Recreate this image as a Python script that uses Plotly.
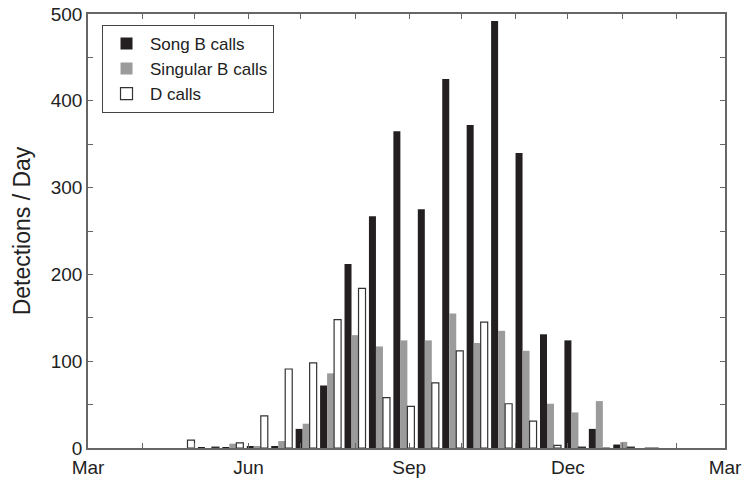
import plotly.graph_objects as go

# Biweekly bin centres
bin_dates = ["2001-04-25", "2001-05-09", "2001-05-23", "2001-06-06", "2001-06-20",
             "2001-07-04", "2001-07-18", "2001-08-01", "2001-08-15", "2001-08-29",
             "2001-09-12", "2001-09-26", "2001-10-10", "2001-10-24", "2001-11-07",
             "2001-11-21", "2001-12-05", "2001-12-19", "2002-01-02", "2002-01-16"]

song_b = [0, 1, 1, 2, 2, 22, 72, 212, 267, 365, 275, 425, 372, 492, 340, 131, 124, 22, 4, 0]
singular_b = [0, 0, 5, 2, 8, 28, 86, 130, 117, 124, 124, 155, 121, 135, 112, 51, 41, 54, 7, 1]
d_calls = [9, 1, 6, 37, 91, 98, 148, 184, 58, 48, 75, 112, 145, 51, 31, 3, 1, 0, 1, 0]

month_ticks = ["2001-03-01", "2001-04-01", "2001-05-01", "2001-06-01", "2001-07-01",
               "2001-08-01", "2001-09-01", "2001-10-01", "2001-11-01", "2001-12-01",
               "2002-01-01", "2002-02-01", "2002-03-01"]
month_labels = ["Mar", "", "", "Jun", "", "", "Sep", "", "", "Dec", "", "", "Mar"]

y_ticks = [0, 50, 100, 150, 200, 250, 300, 350, 400, 450, 500]
y_labels = ["0", "", "100", "", "200", "", "300", "", "400", "", "500"]

fig = go.Figure()
fig.add_trace(go.Bar(x=bin_dates, y=song_b, name="Song B calls",
                     marker=dict(color="#231f20", line=dict(width=0))))
fig.add_trace(go.Bar(x=bin_dates, y=singular_b, name="Singular B calls",
                     marker=dict(color="#9b9b9b", line=dict(width=0))))
fig.add_trace(go.Bar(x=bin_dates, y=d_calls, name="D calls",
                     marker=dict(color="white", line=dict(color="#333333", width=1.2))))

font = "Liberation Sans, Arial, Helvetica, sans-serif"
fig.update_layout(
    width=747, height=479,
    margin=dict(l=88, r=22, t=14, b=31, autoexpand=False),
    paper_bgcolor="white", plot_bgcolor="white",
    barmode="group", bargap=0.14, bargroupgap=0,
    font=dict(family=font, size=19, color="#222222"),
    showlegend=True,
    legend=dict(x=0.022, y=0.975, xanchor="left", yanchor="top",
                bordercolor="#444444", borderwidth=1, bgcolor="white",
                font=dict(size=17, color="#222222"), tracegroupgap=0,
                itemwidth=37),
    xaxis=dict(type="date", range=["2001-03-01", "2002-03-01"], automargin=False,
               tickmode="array", tickvals=month_ticks, ticktext=month_labels,
               ticklabeloverflow="allow", ticklabelstandoff=1,
               ticks="inside", ticklen=5, tickcolor="#666666", tickwidth=1,
               showline=True, linecolor="#666666", linewidth=1.5, mirror="ticks",
               showgrid=False, zeroline=False,
               tickfont=dict(size=19)),
    yaxis=dict(range=[0, 500], tickmode="array", tickvals=y_ticks, ticktext=y_labels,
               automargin=False, ticklabeloverflow="allow",
               ticks="inside", ticklen=5, tickcolor="#666666", tickwidth=1,
               showline=True, linecolor="#666666", linewidth=1.5, mirror="ticks",
               showgrid=False, zeroline=False,
               title=dict(text="Detections / Day", font=dict(size=23), standoff=14),
               tickfont=dict(size=19)),
)

# remove the default page margin so the figure sits at the window's top-left corner
fig.write_html("out.html", config={"displayModeBar": False},
               post_script="document.body.style.margin='0';document.body.style.overflow='hidden';")
